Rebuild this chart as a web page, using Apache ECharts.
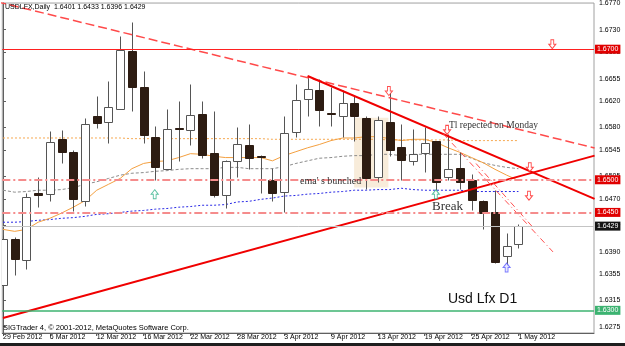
<!DOCTYPE html>
<html><head><meta charset="utf-8">
<script src="https://cdn.jsdelivr.net/npm/echarts@6/dist/echarts.min.js"></script>
<style>html,body{margin:0;padding:0;background:#fff}#c{width:625px;height:346px}</style>
</head><body><div id="c"></div>
<script>
// ---------- data ----------
const dates = ['29 Feb 2012','1 Mar 2012','2 Mar 2012','5 Mar 2012','6 Mar 2012','7 Mar 2012','8 Mar 2012','9 Mar 2012',
 '12 Mar 2012','13 Mar 2012','14 Mar 2012','15 Mar 2012','16 Mar 2012','19 Mar 2012','20 Mar 2012','21 Mar 2012',
 '22 Mar 2012','23 Mar 2012','26 Mar 2012','27 Mar 2012','28 Mar 2012','29 Mar 2012','30 Mar 2012','2 Apr 2012',
 '3 Apr 2012','4 Apr 2012','5 Apr 2012','6 Apr 2012','9 Apr 2012','10 Apr 2012','11 Apr 2012','12 Apr 2012',
 '13 Apr 2012','16 Apr 2012','17 Apr 2012','18 Apr 2012','19 Apr 2012','20 Apr 2012','23 Apr 2012','24 Apr 2012',
 '25 Apr 2012','26 Apr 2012','27 Apr 2012','30 Apr 2012','1 May 2012'];
const opens  = [1.6339,1.6409,1.6377,1.6479,1.6478,1.6563,1.6543,1.6468,1.6597,1.6588,1.6608,1.6698,1.6642,1.6566,1.6517,1.6580,
 1.6577,1.6600,1.6541,1.6476,1.6529,1.6553,1.6536,1.6499,1.6481,1.6573,1.6624,1.6637,1.6602,1.6598,1.6618,1.6595,
 1.6504,1.6589,1.6550,1.6528,1.6541,1.6559,1.6505,1.6518,1.6500,1.6468,1.6451,1.6383,1.6401];
const closes = [1.6409,1.6378,1.6473,1.6477,1.6558,1.6542,1.6470,1.6585,1.6587,1.6612,1.6699,1.6642,1.6569,1.6519,1.6578,1.6578,
 1.6599,1.6538,1.6476,1.6529,1.6555,1.6534,1.6535,1.6480,1.6571,1.6622,1.6639,1.6607,1.6600,1.6617,1.6597,1.6503,
 1.6591,1.6545,1.6531,1.6540,1.6557,1.6496,1.6517,1.6496,1.6469,1.6449,1.6374,1.6399,1.6429];
const lows   = [1.6288,1.6354,1.6364,1.6458,1.6468,1.6526,1.6452,1.6460,1.6579,1.6556,1.6608,1.6606,1.6557,1.6499,1.6517,1.6529,
 1.6553,1.6533,1.6473,1.6456,1.6505,1.6517,1.6479,1.6467,1.6451,1.6565,1.6597,1.6583,1.6583,1.6566,1.6560,1.6486,
 1.6496,1.6537,1.6500,1.6522,1.6512,1.6485,1.6499,1.6486,1.6453,1.6425,1.6373,1.6369,1.6396];
const highs  = [1.6415,1.6413,1.6479,1.6505,1.6574,1.6577,1.6545,1.6595,1.6629,1.6651,1.6720,1.6741,1.6667,1.6583,1.6609,1.6620,
 1.6647,1.6621,1.6606,1.6531,1.6581,1.6585,1.6538,1.6518,1.6597,1.6647,1.6659,1.6654,1.6642,1.6637,1.6629,1.6597,
 1.6597,1.6634,1.6586,1.6578,1.6581,1.6560,1.6570,1.6542,1.6509,1.6469,1.6484,1.6418,1.6433];
const emaOrange = [1.6424,1.6421,1.6424,1.6435,1.6441,1.6449,1.6458,1.6468,1.6484,1.6493,1.6502,1.6517,1.6525,1.6528,1.6529,1.6534,
 1.6540,1.6539,1.6536,1.6534,1.6534,1.6534,1.6534,1.6529,1.6537,1.6543,1.6549,1.6554,1.6560,1.6564,1.6564,1.6566,
 1.6566,1.6563,1.6560,1.6562,1.6562,1.6557,1.6549,1.6542,1.6534,1.6526,1.6516,1.6507,1.6499];
const emaGray = [1.6484,1.6481,1.6482,1.6484,1.6484,1.6485,1.6488,1.6493,1.6497,1.6502,1.6507,1.6510,1.6511,1.6513,1.6514,1.6516,
 1.6517,1.6517,1.6517,1.6519,1.6519,1.6517,1.6517,1.6517,1.6520,1.6525,1.6529,1.6533,1.6534,1.6536,1.6537,1.6537,
 1.6539,1.6539,1.6537,1.6539,1.6539,1.6539,1.6539,1.6539,1.6533,1.6526,1.6522,1.6519,1.6517];
const emaBlue = [1.6435,1.6435,1.6436,1.6438,1.6439,1.6441,1.6442,1.6444,1.6447,1.6448,1.6450,1.6452,1.6453,1.6455,1.6456,1.6458,
 1.6459,1.6461,1.6461,1.6462,1.6466,1.6467,1.6470,1.6472,1.6475,1.6476,1.6478,1.6479,1.6481,1.6482,1.6484,1.6484,
 1.6485,1.6485,1.6487,1.6485,1.6484,1.6484,1.6484,1.6484,1.6482,1.6482,1.6482,1.6482,1.6482];
const smaDotted = [1.6564,1.6564,1.6564,1.6564,1.6564,1.6564,1.6564,1.6564,1.6564,1.6564,1.6564,1.6563,1.6563,1.6563,1.6563,1.6563,
 1.6563,1.6563,1.6563,1.6563,1.6563,1.6563,1.6563,1.6562,1.6562,1.6562,1.6562,1.6562,1.6562,1.6562,1.6562,1.6562,
 1.6562,1.6561,1.6561,1.6561,1.6561,1.6561,1.6561,1.6560,1.6560,1.6560,1.6560,1.6560,1.6560];
// horizontal levels
const levelRed = 1.6700, levelDash1 = 1.6500, levelDash2 = 1.6450, levelBid = 1.6429, levelGreen = 1.6300;
// trendlines [index, price]
const longDashedTL = [[-0.5, 1.67727],[50.5, 1.65488]];
const downTL = [[26, 1.6659],[50.5, 1.64708]];
const upTL = [[0, 1.62883],[50.5, 1.65370]];
const steepTL1 = [[37.57, 1.65707],[46.95, 1.63895]];
const steepTL2 = [[40.38, 1.65249],[45.16, 1.64287]];
// arrows [index, price]
const arrowsDownRed = [[46.89,1.67076],[32.94,1.66359],[37.91,1.65765],[44.97,1.65192],[44.90,1.64756]];
const arrowsUpGreen = [[12.95,1.64779],[36.95,1.64778]];
const arrowsUpBlue = [[42.99,1.63656]];
// highlight zone [fromIdx, toIdx, topPrice, bottomPrice]
const zone = [29.97, 32.9, 1.65951, 1.64882];
// ticks
const yTicks = [1.6770,1.6730,1.6695,1.6655,1.6620,1.6580,1.6545,1.6505,1.6470,1.6430,1.6390,1.6355,1.6315,1.6275];
const xTickIdx = [0,4,8,12,16,20,24,28,32,36,40,44];

// ---------- chart ----------
const F = 'Liberation Sans';
const chart = echarts.init(document.getElementById('c'), null, {renderer:'canvas'});
const candleData = opens.map((o,i)=>[i,o,closes[i],lows[i],highs[i]]);
const ser = arr => arr.map((v,i)=>[i,v]);
const bearColor = '#2d1c12', bullBorder = '#555', wickColor = '#555';

function renderCandle(params, api){
  const i = api.value(0), o = api.value(1), c = api.value(2), l = api.value(3), h = api.value(4);
  const pt = api.coord([i, Math.max(o,c)]), pb = api.coord([i, Math.min(o,c)]);
  const ph = api.coord([i, h]), pl = api.coord([i, l]);
  const x = Math.round(pt[0]) + 0.5;
  const bw = 8;
  const yT = Math.round(pt[1]) + 0.5;
  const yB = Math.max(Math.round(pb[1]) + 0.5, yT);
  const bull = c >= o;
  return {type:'group', children:[
    {type:'line', shape:{x1:x,y1:Math.round(ph[1])+0.5,x2:x,y2:Math.round(pl[1])+0.5}, style:{stroke:wickColor,lineWidth:1}},
    {type:'rect', shape:{x:x-bw/2,y:yT,width:bw,height:yB-yT}, style:{fill: bull?'#fff':bearColor, stroke: bull?bullBorder:bearColor, lineWidth:1}}
  ]};
}
const lvlLabel = (bg) => ({show:true, position:'end', distance:1, formatter: p => Number(p.value).toFixed(4),
  color:'#fff', backgroundColor:bg, padding:[1,2,0,2], fontSize:7, fontFamily:F, lineHeight:8});
const dashDot = [8,3,2,3];

const option = {
  animation:false,
  backgroundColor:'#fff',
  grid:{left:2, right:31, top:2, bottom:13, show:true, borderColor:'#a0a0a0', borderWidth:1, backgroundColor:'#fff'},
  xAxis:{type:'value', min:-0.06, max:50.45, position:'bottom',
    axisLine:{show:true, lineStyle:{color:'#606060', width:1}},
    axisTick:{show:true, customValues:xTickIdx, length:3, lineStyle:{color:'#606060'}},
    axisLabel:{customValues:xTickIdx, formatter: v => dates[Math.round(v)], align:'left', margin:1, fontSize:7, fontFamily:F, color:'#000'},
    splitLine:{show:false}},
  yAxis:{type:'value', min:1.62653, max:1.67707, position:'right', scale:true,
    axisLine:{show:true, lineStyle:{color:'#606060', width:1}},
    axisTick:{show:true, customValues:yTicks, length:3, lineStyle:{color:'#606060'}},
    axisLabel:{customValues:yTicks, formatter: v => v.toFixed(4), margin:5, fontSize:7, fontFamily:F, color:'#000'},
    splitLine:{show:false}},
  series:[
    {type:'line', data:[], z:0, silent:true,
      markArea:{silent:true, itemStyle:{color:'#f8ecda'}, data:[[{coord:[zone[0],zone[2]]},{coord:[zone[1],zone[3]]}]]}},
    {type:'line', data:ser(smaDotted), showSymbol:false, z:1, silent:true,
      lineStyle:{color:'#f6a850', width:1, type:[2,2]},
      markLine:{silent:true, symbol:'none', animation:false, precision:4, data:[
        {yAxis:levelBid, lineStyle:{color:'#c4c4c4', width:1, type:'solid'}, label:lvlLabel('#141414')},
        {yAxis:levelGreen, lineStyle:{color:'#3cb371', width:1.5, type:'solid'}, label:lvlLabel('#3cb371')},
        {yAxis:levelDash2, lineStyle:{color:'#f58c8c', width:2, type:dashDot}, label:lvlLabel('#e00000')},
        {yAxis:levelDash1, lineStyle:{color:'#f58c8c', width:2, type:dashDot}, label:lvlLabel('#e00000')},
        {yAxis:levelRed, lineStyle:{color:'#ff2020', width:1, type:'solid'}, label:lvlLabel('#e00000')}
      ]}},
    {type:'line', data:ser(emaBlue), showSymbol:false, z:1, silent:true, lineStyle:{color:'#2a2ae6', width:1, type:[2,2]}},
    {type:'line', data:ser(emaGray), showSymbol:false, z:1, silent:true, lineStyle:{color:'#8c8c8c', width:1, type:[3,2]}},
    {type:'line', data:ser(emaOrange), showSymbol:false, z:1, silent:true, lineStyle:{color:'#f4a040', width:1}},
    {type:'custom', data:candleData, renderItem:renderCandle, z:3, clip:true, encode:{x:0, y:[1,2,3,4]}},
    {type:'line', data:longDashedTL, showSymbol:false, z:4, silent:true, lineStyle:{color:'#ff4a4a', width:1.5, type:[9,4]}},
    {type:'line', data:downTL, showSymbol:false, z:4, silent:true, lineStyle:{color:'#f00000', width:2}},
    {type:'line', data:upTL, showSymbol:false, z:4, silent:true, lineStyle:{color:'#f00000', width:2}},
    {type:'line', data:steepTL1, showSymbol:false, z:4, silent:true, lineStyle:{color:'#ff5050', width:1, type:[6,3,1,3]}},
    {type:'line', data:steepTL2, showSymbol:false, z:4, silent:true, lineStyle:{color:'#ff5050', width:1, type:[6,3,1,3]}},
    {type:'scatter', data:arrowsDownRed, z:5, silent:true, symbol:'path://M3,0L7,0L7,5L10,5L5,10L0,5L3,5Z', symbolSize:[7,9],
      itemStyle:{color:'#fff', borderColor:'#ff2020', borderWidth:1}},
    {type:'scatter', data:arrowsUpGreen, z:5, silent:true, symbol:'path://M5,0L10,5L7,5L7,10L3,10L3,5L0,5Z', symbolSize:[7,9],
      itemStyle:{color:'#fff', borderColor:'#30b088', borderWidth:1}},
    {type:'scatter', data:arrowsUpBlue, z:5, silent:true, symbol:'path://M5,0L10,5L7,5L7,10L3,10L3,5L0,5Z', symbolSize:[7,9],
      itemStyle:{color:'#e4e4ff', borderColor:'#5a5aff', borderWidth:1}}
  ],
  graphic:[
    {type:'text', z:10, style:{x:5, y:7, verticalAlign:'middle', text:'USDLFX,Daily  '+[opens[44],highs[44],lows[44],closes[44]].map(v=>v.toFixed(4)).join(' '), font:'7px "Liberation Sans"', fill:'#000'}},
    {type:'text', z:10, style:{x:3, y:328, verticalAlign:'middle', text:'SIGTrader 4, © 2001-2012, MetaQuotes Software Corp.', font:'7.5px "Liberation Sans"', fill:'#000'}},
    {type:'text', z:10, style:{x:300, y:181, verticalAlign:'middle', text:"ema' s bunched", font:'10px "Liberation Serif"', fill:'#333'}},
    {type:'text', z:10, style:{x:449, y:125, verticalAlign:'middle', text:'Tl repected on Monday', font:'9.5px "Liberation Serif"', fill:'#333'}},
    {type:'text', z:10, style:{x:432, y:207, verticalAlign:'middle', text:'Break', font:'13px "Liberation Serif"', fill:'#333'}},
    {type:'text', z:10, style:{x:448, y:299, verticalAlign:'middle', text:'Usd Lfx D1', font:'14px "Liberation Sans"', fill:'#111'}},
    {type:'rect', z:10, shape:{x:0, y:343, width:625, height:3}, style:{fill:'#1e1e1e'}}
  ]
};
chart.setOption(option);
</script></body></html>
